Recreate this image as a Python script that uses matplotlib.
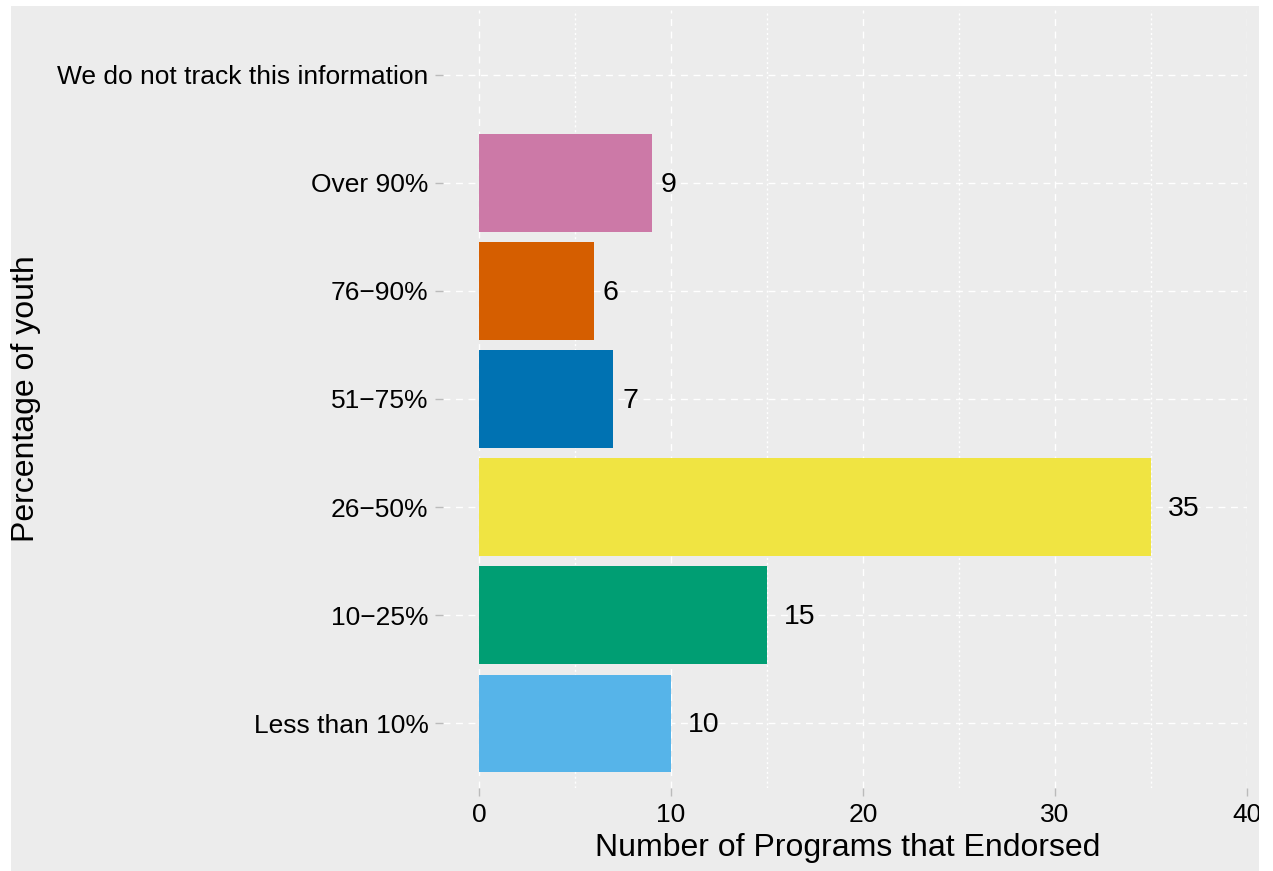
import matplotlib
matplotlib.use("Agg")
import matplotlib.pyplot as plt
from matplotlib.patches import Rectangle

plt.rcParams['font.family'] = ['Liberation Sans', 'DejaVu Sans']

categories = ["Less than 10%", "10\u221225%", "26\u221250%", "51\u221275%",
              "76\u221290%", "Over 90%", "We do not track this information"]
values = [10, 15, 35, 7, 6, 9, 0]
colors = ["#56B4E9", "#009E73", "#F0E442", "#0072B2", "#D55E00", "#CC79A7", "#E69F00"]
x_ticks = [0, 10, 20, 30, 40]
x_minor = [5, 15, 25, 35]

W, H = 1273, 871
fig = plt.figure(figsize=(W / 100, H / 100), dpi=100)
fig.patch.set_facecolor("white")
bg = "#ECECEC"
bgrect = Rectangle((11 / W, 0), (1259 - 11) / W, 1 - 6 / H,
                   transform=fig.transFigure, facecolor=bg,
                   edgecolor="none", zorder=-10)
fig.patches.append(bgrect)

left, right, top, bottom = 443, 1247, 10, 788
ax = fig.add_axes([left / W, 1 - bottom / H, (right - left) / W, (bottom - top) / H])
ax.set_zorder(1)
ax.set_facecolor(bg)
for s in ax.spines.values():
    s.set_visible(False)

ypos = list(range(len(categories)))
ax.barh(ypos, values, height=0.9, color=colors, zorder=3)

ax.set_xlim(-1.875, 40)
ax.set_ylim(-0.6, len(categories) - 0.4)

# grid
for xv in x_ticks:
    ax.axvline(xv, color="white", lw=1.0, ls=(0, (5, 4)), zorder=1)
for xv in x_minor:
    ax.axvline(xv, color="white", lw=1.0, ls=(0, (1.5, 2)), zorder=1)
for yv in ypos:
    ax.axhline(yv, color="white", lw=1.0, ls=(0, (5, 4)), zorder=1)

ax.set_xticks(x_ticks)
ax.set_xticklabels([str(v) for v in x_ticks])
ax.set_yticks(ypos)
ax.set_yticklabels(categories)
ax.tick_params(axis="both", which="major", labelsize=19, color="#BBBBBB",
               length=6, width=1, pad=4.5, labelcolor="black")
for lbl in ax.get_xticklabels():
    lbl.set_clip_path(bgrect)

for y, v in zip(ypos, values):
    if v > 0:
        s = str(v)
        ax.annotate(s, (v, y), xytext=(6.2 * len(s), -1.5), textcoords="offset points",
                    ha="left", va="center", fontsize=20.5, color="black", zorder=4)

fig.text((left + right) / 2 / W + 3 / W, 1 - 848 / H, "Number of Programs that Endorsed",
         ha="center", va="center", fontsize=23)
fig.text(26 / W, 1 - (top + bottom) / 2 / H, "Percentage of youth",
         ha="center", va="center", rotation=90, fontsize=23)

fig.savefig("out.png", dpi=100)
